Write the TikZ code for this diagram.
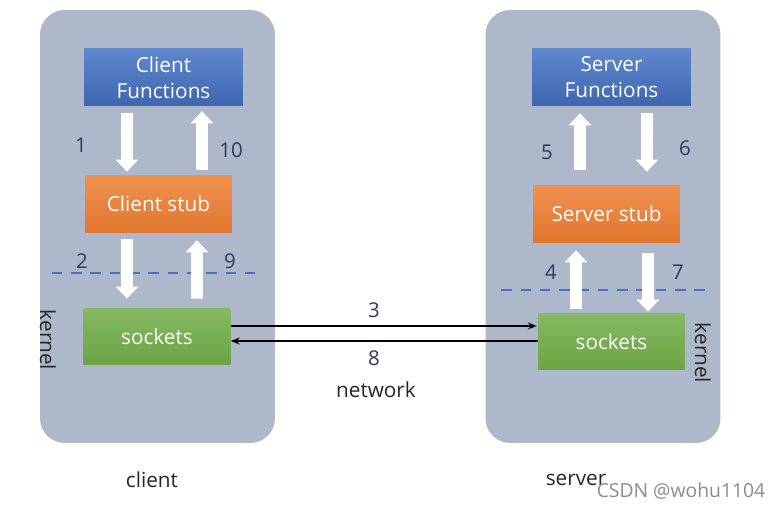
\documentclass[tikz,border=0pt]{standalone}
\usepackage{fontspec}
\setmainfont{Open Sans}
\usetikzlibrary{positioning,arrows.meta,calc}
\definecolor{panelgray}{HTML}{ADB8CA}
\definecolor{fnblue}{HTML}{4472C4}
\definecolor{stuborange}{HTML}{ED7D31}
\definecolor{sockgreen}{HTML}{70AD47}
\definecolor{numnavy}{HTML}{2B3A5E}
\tikzstyle{panel}=[fill=panelgray,rounded corners=14pt,minimum width=4.7cm,minimum height=8.66cm,inner sep=0pt]
\tikzstyle{box}=[text=white,inner sep=0pt,align=center,font=\fontsize{11.8}{14.7}\selectfont]
\tikzstyle{fnbox}=[box,top color=fnblue!85!white,bottom color=fnblue!90!black,minimum width=3.18cm,minimum height=1.14cm]
\tikzstyle{stubbox}=[box,top color=stuborange!85!white,bottom color=stuborange!95!black,minimum width=2.94cm,minimum height=1.16cm]
\tikzstyle{sockbox}=[box,top color=sockgreen!85!white,bottom color=sockgreen!95!black,minimum width=2.94cm,minimum height=1.14cm]
\tikzstyle{bigarrow}=[draw=white,line width=6.8pt,-{Triangle[width=12.5pt,length=6.8pt]}]
\tikzstyle{netarrow}=[draw=black,line width=0.9pt,-{Stealth[length=5pt,width=4pt]}]
\tikzstyle{num}=[text=numnavy,font=\fontsize{11.6}{13}\selectfont]
\tikzstyle{caption}=[text=black!85,font=\fontsize{11.8}{14}\selectfont]
\begin{document}
\begin{tikzpicture}[x=0.02cm,y=-0.02cm]
  \useasboundingbox[fill=white] (0,0) rectangle (781,509);
  % the two machines
  \node[panel] (cpanel) at (157.5,226.5) {};
  \node[panel] (spanel) at (603,226.5) {};

  % client side
  \node[fnbox]   (cf)    at (163.5,77.5) {Client\\Functions};
  \node[stubbox] (cs)    at (158.5,204)  {Client stub};
  \node[sockbox] (csock) at (157,336.5)  {sockets};

  % server side
  \node[fnbox]   (sf)    at (611.5,77.5) {Server\\Functions};
  \node[stubbox] (ss)    at (606.5,214)  {Server stub};
  \node[sockbox] (ssock) at (611.5,341.5) {sockets};

  % kernel boundaries
  \draw[fnblue,line width=0.7pt,dash pattern=on 6pt off 5pt]
    ($(cpanel.west)+(12,46.5)$) -- ($(cpanel.east)+(-19,46.5)$);
  \draw[fnblue,line width=0.7pt,dash pattern=on 6pt off 5pt]
    ($(spanel.west)+(16,63.5)$) -- ($(spanel.east)+(-14,63.5)$);

  % calls inside the client
  \draw[bigarrow] ($(cf.south)+(-36.5,7)$) -- ($(cs.north)+(-31.5,-3)$);
  \draw[bigarrow] ($(cs.north)+(43.5,-5)$) -- ($(cf.south)+(38.5,5)$);
  \draw[bigarrow] ($(cs.south)+(-31.5,6)$) -- ($(csock.north)+(-30,-9)$);
  \draw[bigarrow] ($(csock.north)+(40,-9)$) -- ($(cs.south)+(38.5,7)$);

  % calls inside the server
  \draw[bigarrow] ($(ss.north)+(-26.5,-15)$) -- ($(sf.south)+(-31.5,7)$);
  \draw[bigarrow] ($(sf.south)+(35.5,7)$) -- ($(ss.north)+(40.5,-13)$);
  \draw[bigarrow] ($(ssock.north)+(-35.5,-4)$) -- ($(ss.south)+(-30.5,7)$);
  \draw[bigarrow] ($(ss.south)+(41.5,10)$) -- ($(ssock.north)+(36.5,-1)$);

  % over the network
  \draw[netarrow] ($(csock.east)+(0,-10.5)$) -- ($(ssock.west)+(-1,-15.5)$);
  \draw[netarrow] ($(ssock.west)+(0,-0.5)$) -- ($(csock.east)+(0,4.5)$);

  % step numbers
  \node[num] (n1)  at (81,145)  {1};
  \node[num] (n2)  at (82,261)  {2};
  \node[num] (n3)  at (374,310) {3};
  \node[num] (n4)  at (551,272) {4};
  \node[num] (n5)  at (547,152) {5};
  \node[num] (n6)  at (685,148) {6};
  \node[num] (n7)  at (678,272) {7};
  \node[num] (n8)  at (374,358) {8};
  \node[num] (n9)  at (230,261) {9};
  \node[num] (n10) at (231,150) {10};

  % captions
  \node[caption] (net)   at (376,390) {network};
  \node[caption,rotate=-90] (ckern) at (48,340) {kernel};
  \node[caption,rotate=-90] (skern) at (703,353) {kernel};
  \node[caption] (client) at (152,480) {client};
  \node[caption] (server) at (576,480) {server};
  \node[text=black!45,font=\fontsize{11}{12}\selectfont] (mark) at (681,491) {CSDN @wohu1104};
\end{tikzpicture}
\end{document}
